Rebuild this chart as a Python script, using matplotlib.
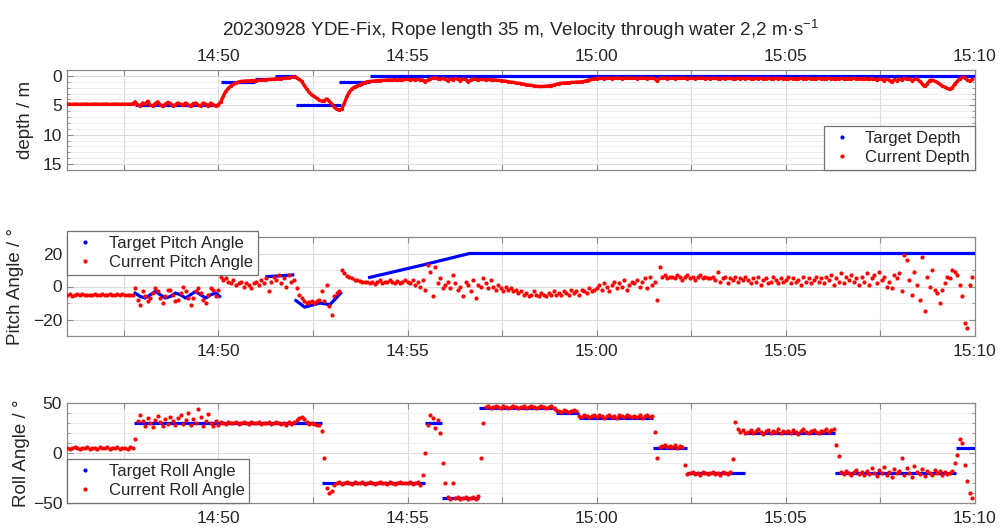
import numpy as np
import pandas as pd
import matplotlib
matplotlib.use('Agg')
import matplotlib.pyplot as plt
import matplotlib.dates as mdates
from matplotlib.lines import Line2D
from matplotlib.ticker import FixedLocator, MultipleLocator, FuncFormatter

plt.rcParams['font.family'] = ['Liberation Sans', 'DejaVu Sans']
plt.rcParams['mathtext.fontset'] = 'custom'
plt.rcParams['mathtext.rm'] = 'Liberation Sans'
plt.rcParams['mathtext.it'] = 'Liberation Sans:italic'
plt.rcParams['mathtext.bf'] = 'Liberation Sans:bold'

DATE = '2023-09-28'
START = '14:46:00'
STEP_S = 4  # one sample every 4 s, 15 samples per minute row

TITLE = '20230928 YDE-Fix, Rope length 35 m, Velocity through water 2,2 m·s$^{-1}$'

# ---- current values (one row per minute, 14:46 ... 15:09) ----
DEPTH_CUR = [
    4.8, 4.8, 4.85, 4.8, 4.8, 4.85, 4.8, 4.8, 4.8, 4.85, 4.8, 4.8, 4.8, 4.85, 4.8,
    4.8, 4.8, 4.85, 4.8, 4.8, 4.8, 4.85, 4.8, 4.8, 4.8, 4.8, 4.8, 4.4, 4.9, 5.1,
    4.6, 4.8, 4.3, 5.0, 5.1, 4.7, 4.4, 4.9, 5.2, 4.8, 4.5, 4.7, 5.1, 4.9, 4.6,
    4.8, 5.0, 4.6, 4.9, 5.2, 4.7, 4.6, 5.0, 5.1, 4.6, 4.8, 5.2, 4.6, 4.9, 5.1,
    4.9, 4.4, 3.4, 2.6, 2.1, 1.7, 1.4, 1.2, 1.05, 0.95, 0.9, 0.85, 0.85, 0.8, 0.8,
    0.8, 0.75, 0.7, 0.7, 0.65, 0.6, 0.6, 0.55, 0.5, 0.45, 0.45, 0.4, 0.35, 0.3, 0.25,
    0.15, 0.3, 0.6, 0.9, 1.6, 2.2, 2.8, 3.2, 3.5, 3.8, 4.1, 4.3, 4.2, 3.9, 4.3,
    4.8, 5.3, 5.7, 5.8, 5.6, 4.6, 3.5, 2.7, 2.2, 1.9, 1.7, 1.5, 1.3, 1.15, 1.0,
    0.95, 0.9, 0.85, 0.8, 0.8, 0.75, 0.75, 0.7, 0.7, 0.7, 0.65, 0.7, 0.65, 0.7, 0.6,
    0.6, 0.65, 0.6, 0.7, 0.6, 0.65, 0.7, 1.0, 0.7, 0.5, 0.4, 0.3, 0.5, 0.6, 0.4,
    0.6, 0.8, 0.5, 0.7, 0.4, 0.6, 0.8, 0.5, 0.6, 1.0, 0.7, 0.5, 0.6, 0.7, 0.6,
    0.6, 0.7, 0.6, 0.65, 0.7, 0.7, 0.75, 0.8, 0.85, 0.9, 1.0, 1.05, 1.1, 1.2, 1.25,
    1.3, 1.4, 1.5, 1.55, 1.6, 1.7, 1.75, 1.8, 1.8, 1.8, 1.75, 1.7, 1.65, 1.55, 1.45,
    1.3, 1.25, 1.2, 1.2, 1.15, 1.1, 1.1, 1.05, 1.05, 1.0, 0.95, 0.8, 0.7, 0.6, 0.5,
    0.45, 0.4, 0.4, 0.45, 0.35, 0.4, 0.45, 0.4, 0.35, 0.4, 0.45, 0.4, 0.4, 0.35, 0.4,
    0.4, 0.45, 0.4, 0.35, 0.4, 0.45, 0.4, 0.4, 0.45, 0.9, 0.4, 0.35, 0.4, 0.45, 0.4,
    0.4, 0.45, 0.4, 0.4, 0.35, 0.4, 0.45, 0.4, 0.4, 0.45, 0.4, 0.35, 0.4, 0.45, 0.4,
    0.45, 0.4, 0.4, 0.45, 0.5, 0.4, 0.45, 0.4, 0.4, 0.5, 0.45, 0.4, 0.45, 0.4, 0.45,
    0.4, 0.45, 0.5, 0.4, 0.45, 0.4, 0.5, 0.45, 0.4, 0.45, 0.5, 0.4, 0.45, 0.4, 0.5,
    0.45, 0.5, 0.4, 0.45, 0.5, 0.45, 0.4, 0.5, 0.45, 0.4, 0.5, 0.45, 0.5, 0.4, 0.45,
    0.5, 0.45, 0.4, 0.5, 0.45, 0.5, 0.45, 0.4, 0.5, 0.45, 0.5, 0.45, 0.4, 0.5, 0.45,
    0.5, 0.45, 0.5, 0.6, 0.45, 0.5, 0.7, 0.5, 0.6, 0.8, 0.5, 0.7, 1.1, 0.6, 0.8,
    0.5, 0.7, 0.4, 0.6, 0.5, 0.8, 0.6, 0.5, 0.9, 1.3, 1.8, 1.4, 0.8, 0.7, 0.9,
    1.1, 1.4, 1.7, 1.9, 2.1, 2.3, 2.0, 1.4, 0.9, 0.5, 0.25, 0.3, 0.7, 0.9, 0.6,
]

PITCH_CUR = [
    -5, -4.5, -5.5, -5, -4.8, -5.2, -4.6, -5, -5.4, -4.9, -5, -4.7, -5.3, -5, -4.8,
    -5, -5.2, -4.6, -5, -5.3, -4.8, -5, -4.6, -5.2, -5, -4.9, -5.1, -1, -8, -11,
    -3, -6, -9, -7, -4, -1, -3, -7, -10, -6, -2, -2, -5, -9, -8,
    -4, 0, -3, -7, -11, -7, -3, -1, -4, -8, -10, -5, -1, -2, -6,
    -2, 6, 4, 5, 3, 2, 4, 1, 2, 3, 0, 2, 1, -1, 2,
    3, 1, 4, 2, 5, -3, 3, 6, 4, 7, 2, 5, 0, 7, 3,
    4, -1, -5, -7, -9, -10, -9.5, -9, -10, -9, -8, -3, -9, 1, -12,
    -17, -6, -4, -3, 10, 8, 6.5, 6, 5, 4, 4, 3.5, 3, 3, 2.5,
    2, 3, 1.5, 3, 4, 2, 3, 2.5, 4, 3, 2, 3.5, 2, 3, 4,
    3, 2, 4, 1, 3, 0, 4, -2, 13, 9, -6, 12, 2, 5, -1,
    1, 3, -1, 7, 2, -2, 0, -6, 3, 1, -3, 4, -7, 1, 0,
    5, 2, -1, 4, 0, -2, 1, -1, -3, 0, -2, -1, -3, -2, -4,
    -3, -5, -4, -6, -5, -3, -5, -6, -4, -5, -6, -4, -5, -3, -5,
    -4, -5, -3, -4, -5, -2, -4, -3, -5, -2, -3, -4, -1, -3, -2,
    -1, 1, -2, 2, 0, -3, 1, 3, -1, 2, 0, 4, -2, 1, 3,
    2, 4, 0, 3, 5, -1, 6, 1, 3, -8, 12, 6, 7, 5, 6,
    6, 5, 7, 6, 4, 6, 7, 5, 6, 4, 6, 7, 5, 6, 5,
    5, 6, 4, 9, 3, 5, 6, 2, 5, 4, 6, 3, 5, 4, 6,
    4, 2, 5, 3, 6, 1, 4, 5, 2, 3, 6, 4, 2, 5, 3,
    4, 6, 2, 5, 3, 4, 1, 6, 3, 5, 2, 4, 6, 3, 5,
    2, 6, 4, 7, 1, 5, 3, 8, 2, 6, 4, 7, 3, 5, 1,
    6, 3, 8, 1, 5, 7, 2, 9, 4, 6, 0, 3, -1, 7, 5,
    8, -3, 19, 16, 4, -5, 9, 1, -8, 18, -15, 6, 0, 10, -2,
    -4, -10, -2, 2, 6, 5, 10, 9, 7, 1, -6, -22, -25, 1, 6,
]

ROLL_CUR = [
    5, 4, 5, 6, 5, 4, 5, 5, 6, 4, 5, 5, 4, 6, 5,
    5, 6, 4, 5, 5, 6, 4, 5, 5, 4, 6, 5, 14, 32, 38,
    32, 27, 35, 30, 26, 33, 37, 31, 27, 34, 29, 36, 32, 28, 35,
    38, 29, 33, 40, 28, 34, 30, 44, 36, 27, 32, 39, 30, 27, 32,
    28, 31, 30, 29, 31, 30, 30, 31, 29, 30, 31, 30, 29, 31, 30,
    30, 31, 29, 30, 30, 31, 29, 30, 31, 30, 29, 30, 28, 31, 29,
    31, 33, 35, 36, 34, 31, 29, 30, 29, 28, 28, 22, -5, -35, -40,
    -38, -32, -30, -29, -31, -30, -29, -30, -31, -29, -30, -30, -29, -31, -30,
    -29, -30, -31, -30, -29, -30, -30, -31, -29, -30, -31, -30, -29, -30, -30,
    -30, -29, -31, -30, -29, -32, -22, 0, 28, 38, 35, 25, 33, 20, -10,
    -30, -44, -46, -30, -45, -44, -46, -45, -44, -46, -45, -44, -46, -43, -5,
    30, 46, 47, 45, 46, 47, 46, 45, 47, 46, 45, 46, 47, 46, 45,
    46, 47, 45, 46, 47, 46, 45, 46, 47, 46, 45, 46, 47, 45, 43,
    42, 41, 43, 42, 41, 42, 43, 42, 37, 36, 38, 37, 36, 37, 38,
    36, 38, 37, 35, 37, 38, 36, 37, 35, 38, 37, 36, 38, 37, 36,
    37, 36, 38, 35, 37, 38, 36, 37, 21, -5, 6, 7, 8, 6, 7,
    6, 8, 5, 7, 6, -12, -21, -20, -19, -21, -20, -22, -19, -20, -21,
    -20, -19, -21, -20, -22, -19, -20, -21, -19, -6, 31, 24, 21, 23, 20,
    21, 23, 20, 22, 24, 21, 19, 22, 23, 20, 22, 21, 24, 20, 22,
    21, 22, 20, 23, 21, 19, 22, 24, 21, 20, 22, 23, 21, 20, 22,
    22, 24, 21, 23, 24, 8, -3, -19, -21, -18, -20, -22, -19, -17, -21,
    -19, -22, -18, -21, -15, -20, -23, -17, -20, -14, -22, -19, -24, -16, -20,
    -18, -5, -22, -15, -20, -24, -13, -19, -21, -16, -23, -18, -20, -22, -17,
    -20, -18, -22, -19, -21, -20, -18, -10, -2, 14, 10, -12, -28, -40, -45,
]

# ---- target values ----
DEPTH_TGT_START = ['14:47:48', '14:50:04', '14:50:58', '14:51:30', '14:52:03', '14:53:12', '14:54:00']
DEPTH_TGT_END = ['14:50:00', '14:50:58', '14:51:30', '14:52:03', '14:53:14', '14:54:00', '15:10:00']
DEPTH_TGT_VAL = [5, 1, 0.5, 0, 5, 1, 0]

PITCH_TGT_TIME = ['14:47:48', '14:47:56', '14:48:04', '14:48:12', '14:48:20', '14:48:28', '14:48:36',
                  '14:48:44', '14:48:52', '14:49:00', '14:49:08', '14:49:16', '14:49:24', '14:49:32',
                  '14:49:40', '14:49:48', '14:49:56', '14:50:02', None,
                  '14:51:17', '14:51:40', '14:51:58', None,
                  '14:52:03', '14:52:17', '14:52:41', '14:52:57', '14:53:14', None,
                  '14:54:00', '14:55:24', '14:56:38', '15:10:00']
PITCH_TGT_VAL = [-4, -6, -7, -5, -3, -5, -7, -6, -4, -5, -7, -5, -3, -5, -7, -5, -4, -6, None,
                 6, 6.5, 7, None,
                 -8.5, -12.5, -10, -11, -4, None,
                 5.5, 13, 20, 20]

ROLL_TGT_START = ['14:47:46', '14:52:44', '14:55:27', '14:55:54', '14:56:53', '14:58:55', '14:59:32',
                  '15:01:29', '15:02:24', '15:03:55', '15:06:18', '15:09:30']
ROLL_TGT_END = ['14:52:44', '14:55:27', '14:55:54', '14:56:53', '14:58:55', '14:59:32', '15:01:29',
                '15:02:24', '15:03:55', '15:06:18', '15:09:30', '15:10:00']
ROLL_TGT_VAL = [30, -30, 30, -45, 45, 40, 35, 5, -20, 20, -20, 5]

X_START = '14:46:00'
X_END = '15:10:00'
X_TICKS = ['14:47:30', '14:50:00', '14:52:30', '14:55:00', '14:57:30', '15:00:00',
           '15:02:30', '15:05:00', '15:07:30', '15:10:00']


def tnum(s):
    return mdates.date2num(pd.Timestamp(DATE + ' ' + s).to_pydatetime())


def tlist(lst):
    return np.array([tnum(s) if s is not None else np.nan for s in lst])


def vlist(lst):
    return np.array([v if v is not None else np.nan for v in lst], dtype=float)


t0 = pd.Timestamp(DATE + ' ' + START)
tt = mdates.date2num((t0 + pd.to_timedelta(np.arange(len(DEPTH_CUR)) * STEP_S, unit='s')).to_pydatetime())

BLUE = '#0000ff'
RED = '#ff0000'
TXT = '#262626'
EDGE = '#8a8a8a'

fig = plt.figure(figsize=(10, 5.32), dpi=100)
W, H = 1000, 532
L, R = 67, 975


def make_ax(top, bot):
    return fig.add_axes([L / W, 1 - bot / H, (R - L) / W, (bot - top) / H])


ax1 = make_ax(70, 170)
ax2 = make_ax(237, 336)
ax3 = make_ax(403, 503)

xt = tlist(X_TICKS)


def fmt_x(x, pos):
    d = mdates.num2date(x)
    if d.minute % 5 == 0 and d.second == 0:
        return d.strftime('%H:%M')
    return ''


for ax in (ax1, ax2, ax3):
    ax.set_xlim(tnum(X_START), tnum(X_END))
    ax.xaxis.set_major_locator(FixedLocator(xt))
    ax.xaxis.set_major_formatter(FuncFormatter(fmt_x))
    ax.tick_params(axis='both', which='both', direction='in', colors=EDGE,
                   labelcolor=TXT, labelsize=12.5, top=True, right=True)
    ax.tick_params(which='major', length=4.5, width=0.8)
    ax.tick_params(which='minor', length=2.5, width=0.6)
    ax.grid(True, which='major', color='#dcdcdc', lw=0.8)
    ax.grid(True, which='minor', axis='y', color='#ebebeb', lw=0.6)
    ax.set_axisbelow(True)
    for sp in ax.spines.values():
        sp.set_color(EDGE)
        sp.set_linewidth(0.9)
    ax.set_facecolor('white')

# depth
ax1.xaxis.set_ticks_position('both')
ax1.xaxis.set_label_position('top')
ax1.tick_params(axis='x', labeltop=True, labelbottom=False, pad=4)
ax1.hlines(DEPTH_TGT_VAL, tlist(DEPTH_TGT_START), tlist(DEPTH_TGT_END), colors=BLUE, lw=2.3, zorder=3)
ax1.plot(tt, DEPTH_CUR, color=RED, lw=2.4, marker='o', ms=2.4, mew=0, zorder=4)
ax1.set_ylim(16, -1)
ax1.set_yticks([0, 5, 10, 15])
ax1.yaxis.set_minor_locator(MultipleLocator(1))
ax1.set_ylabel('depth / m', fontsize=13.5, color=TXT, labelpad=6)

# pitch
ax2.plot(tlist(PITCH_TGT_TIME), vlist(PITCH_TGT_VAL), color=BLUE, lw=2.3, zorder=3)
ax2.plot(tt, PITCH_CUR, ls='none', marker='o', ms=3.0, mew=0, color=RED, zorder=4)
ax2.set_ylim(-30, 30)
ax2.set_yticks([-20, 0, 20])
ax2.yaxis.set_minor_locator(MultipleLocator(10))
ax2.set_ylabel('Pitch Angle / °', fontsize=13.5, color=TXT, labelpad=6)

# roll
ax3.hlines(ROLL_TGT_VAL, tlist(ROLL_TGT_START), tlist(ROLL_TGT_END), colors=BLUE, lw=2.3, zorder=3)
ax3.plot(tt, ROLL_CUR, ls='none', marker='o', ms=3.0, mew=0, color=RED, zorder=4)
ax3.set_ylim(-50, 50)
ax3.set_yticks([-50, 0, 50])
ax3.yaxis.set_minor_locator(MultipleLocator(10))
ax3.set_ylabel('Roll Angle / °', fontsize=13.5, color=TXT, labelpad=2)

for ax in (ax2, ax3):
    ax.tick_params(axis='x', pad=6)


def leg(ax, labels, loc, anchor):
    hs = [Line2D([], [], ls='none', marker='.', ms=4, color=BLUE),
          Line2D([], [], ls='none', marker='.', ms=4, color=RED)]
    lg = ax.legend(hs, labels, loc=loc, bbox_to_anchor=anchor, borderaxespad=0,
                   fontsize=12, frameon=True, fancybox=False, framealpha=1,
                   edgecolor='#707070', handlelength=1.6, handletextpad=0.6,
                   labelspacing=0.25, borderpad=0.3, labelcolor=TXT)
    lg.get_frame().set_linewidth(0.9)
    lg.set_zorder(10)
    return lg


leg(ax1, ['Target Depth', 'Current Depth'], 'lower right', (1, 0))
leg(ax2, ['Target Pitch Angle', 'Current Pitch Angle'], 'upper left', (0, 1.06))
leg(ax3, ['Target Roll Angle', 'Current Roll Angle'], 'lower left', (0, 0))

fig.text(521 / W, 1 - 30 / H, TITLE, ha='center', va='center', fontsize=13.5, color=TXT)

fig.savefig('out.png', dpi=100, facecolor='white')
